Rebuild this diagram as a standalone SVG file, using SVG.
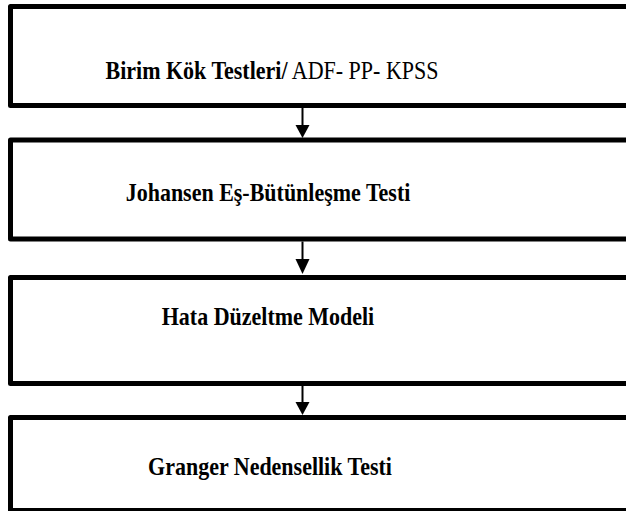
<svg xmlns="http://www.w3.org/2000/svg" width="626" height="511" viewBox="0 0 626 511">
<style>
.box{fill:#fff;stroke:#000;stroke-width:5;stroke-linejoin:round}
.lbl{font-size:22px;font-weight:bold;fill:#000;text-anchor:middle}
.n{font-weight:normal}
.conn{stroke:#000;stroke-width:2;fill:none}
.head{fill:#000}
</style>
<rect width="626" height="511" fill="#fff"/>
<g id="node1">
<rect class="box" x="10.5" y="6.5" width="640" height="99"/>
<text class="lbl" font-family="Liberation Serif, Times New Roman, serif" transform="translate(272 79) scale(1 1.1)">Birim Kök Testleri/<tspan class="n"> ADF- PP- KPSS</tspan></text>
</g>
<g id="node2">
<rect class="box" x="10.5" y="140" width="640" height="99"/>
<text class="lbl" font-family="Liberation Serif, Times New Roman, serif" transform="translate(268 201) scale(1 1.1)">Johansen Eş-Bütünleşme Testi</text>
</g>
<g id="node3">
<rect class="box" x="10.5" y="277.5" width="640" height="106"/>
<text class="lbl" font-family="Liberation Serif, Times New Roman, serif" transform="translate(268 325) scale(1 1.1)">Hata Düzeltme Modeli</text>
</g>
<g id="node4">
<rect class="box" x="10.5" y="417.5" width="640" height="93"/>
<text class="lbl" font-family="Liberation Serif, Times New Roman, serif" transform="translate(270 475) scale(1 1.1)">Granger Nedensellik Testi</text>
</g>
<g id="connectors">
<line class="conn" x1="302.5" y1="108" x2="302.5" y2="126"/>
<polygon class="head" points="295.5,125 309.5,125 302.5,138"/>
<line class="conn" x1="302.5" y1="241.5" x2="302.5" y2="260"/>
<polygon class="head" points="295.5,259 309.5,259 302.5,274"/>
<line class="conn" x1="302.5" y1="386" x2="302.5" y2="403"/>
<polygon class="head" points="295.5,402 309.5,402 302.5,415"/>
</g>
</svg>
